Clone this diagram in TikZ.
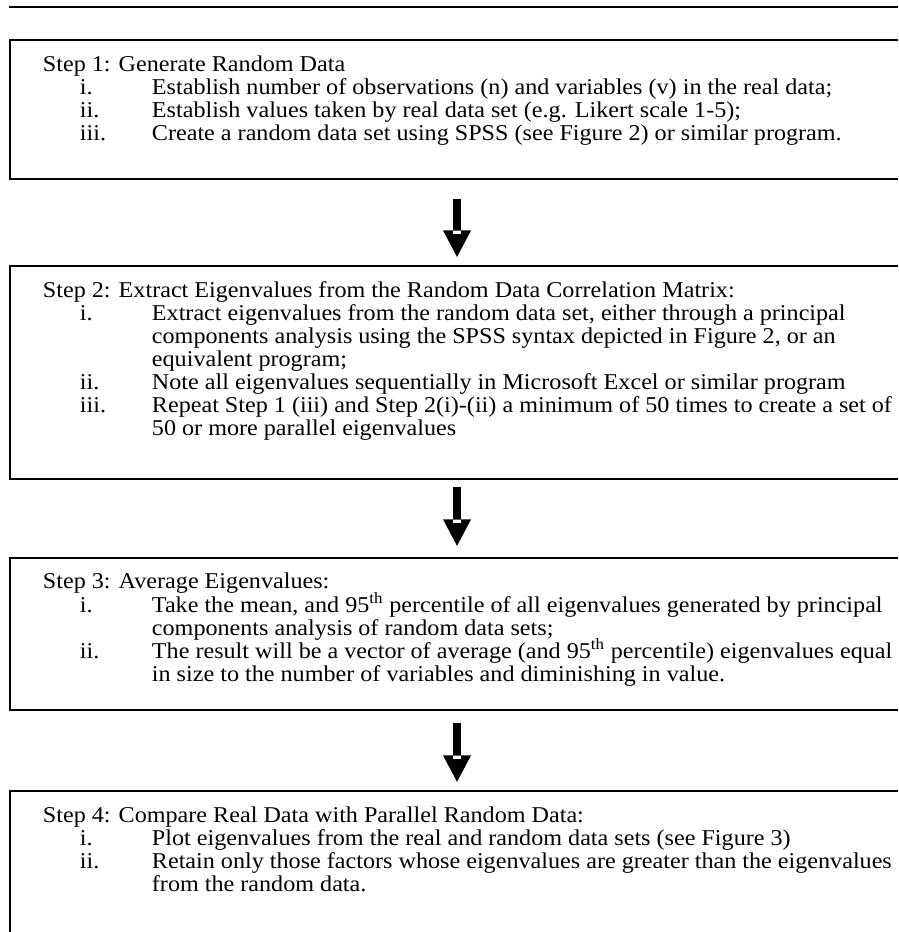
\documentclass[tikz,border=0pt]{standalone}
\usepackage{fontspec}
\setmainfont{Liberation Serif}[FakeStretch=1.068]
\usetikzlibrary{positioning,calc,arrows.meta}
\newcommand{\stepnum}[1]{\makebox[65.1pt][l]{\hspace*{22.1pt}#1}}
\newcommand{\stepcont}{\hspace*{65.1pt}}

\begin{document}
\begin{tikzpicture}[x=0.5974pt,y=-0.5974pt,
				stepframe/.style={rectangle,minimum width=530.5pt,inner sep=0pt,outer sep=0pt,anchor=north west},
				steptext/.style={inner sep=0pt,outer sep=0pt,align=left,font={\fontsize{13.5pt}{13.8pt}\selectfont\lineskiplimit=-20pt}},
				frameline/.style={line width=1pt},
				flowarrow/.style={line width=5.1pt,-{Triangle[width=16.7pt,length=15.8pt,line width=0pt]}}]
				\useasboundingbox (0,0) rectangle (898,932);
				\draw[frameline] (9,7) -- (898,7);
				
				\node[stepframe,minimum height=83pt]                      (b1) at (10,40) {};
				\node[stepframe,minimum height=127.2pt,below=52pt of b1]  (b2) {};
				\node[stepframe,minimum height=90.8pt,below=47.2pt of b2] (b3) {};
				\node[stepframe,minimum height=84.2pt,below=48.4pt of b3] (b4) {};
				
				\draw[frameline] (b1.north east) -- (b1.north west) -- (b1.south west) -- (b1.south east);
				\draw[frameline] (b2.north east) -- (b2.north west) -- (b2.south west) -- (b2.south east);
				\draw[frameline] (b3.north east) -- (b3.north west) -- (b3.south west) -- (b3.south east);
				\draw[frameline] (b4.north east) -- (b4.north west) -- (b4.south west);
				
				\node[steptext,below right=9.2pt and 19.7pt of b1.north west] (t1) {%
					Step 1: Generate Random Data\\
					\stepnum{i.}Establish number of observations (n) and variables (v) in the real data;\\
					\stepnum{ii.}Establish values taken by real data set (e.g. Likert scale 1-5);\\
					\stepnum{iii.}Create a random data set using SPSS (see Figure 2) or similar program.};
				\node[steptext,below right=9.2pt and 19.7pt of b2.north west] (t2) {%
					Step 2: Extract Eigenvalues from the Random Data Correlation Matrix:\\
					\stepnum{i.}Extract eigenvalues from the random data set, either through a principal\\
					\stepcont components analysis using the SPSS syntax depicted in Figure 2, or an\\
					\stepcont equivalent program;\\
					\stepnum{ii.}Note all eigenvalues sequentially in Microsoft Excel or similar program\\
					\stepnum{iii.}Repeat Step 1 (iii) and Step 2(i)-(ii) a minimum of 50 times to create a set of\\
					\stepcont 50 or more parallel eigenvalues};
				\node[steptext,below right=9.2pt and 19.7pt of b3.north west] (t3) {%
					Step 3: Average Eigenvalues:\\
					\stepnum{i.}Take the mean, and 95\textsuperscript{th} percentile of all eigenvalues generated by principal\\
					\stepcont components analysis of random data sets;\\
					\stepnum{ii.}The result will be a vector of average (and 95\textsuperscript{th} percentile) eigenvalues equal\\
					\stepcont in size to the number of variables and diminishing in value.};
				\node[steptext,below right=9.2pt and 19.7pt of b4.north west] (t4) {%
					Step 4: Compare Real Data with Parallel Random Data:\\
					\stepnum{i.}Plot eigenvalues from the real and random data sets (see Figure 3)\\
					\stepnum{ii.}Retain only those factors whose eigenvalues are greater than the eigenvalues\\
					\stepcont from the random data.};
				
				\draw[flowarrow,shorten <=11.9pt,shorten >=5.4pt] ([xshift=1.8pt]b1.south) -- ([xshift=1.8pt]b2.north);
				\draw[flowarrow,shorten <=4.8pt,shorten >=7.2pt]  ([xshift=1.8pt]b2.south) -- ([xshift=1.8pt]b3.north);
				\draw[flowarrow,shorten <=7.8pt,shorten >=5.4pt]  ([xshift=1.8pt]b3.south) -- ([xshift=1.8pt]b4.north);
				\fill[white] ($(b2.north)+(-0.6,-34.7)$) rectangle ($(b2.north)+(6.6,-31.5)$);
				\fill[white] ($(b3.north)+(-0.6,-37.7)$) rectangle ($(b3.north)+(6.6,-34.5)$);
				\fill[white] ($(b4.north)+(-0.6,-34.7)$) rectangle ($(b4.north)+(6.6,-31.5)$);
			\end{tikzpicture}
\end{document}
